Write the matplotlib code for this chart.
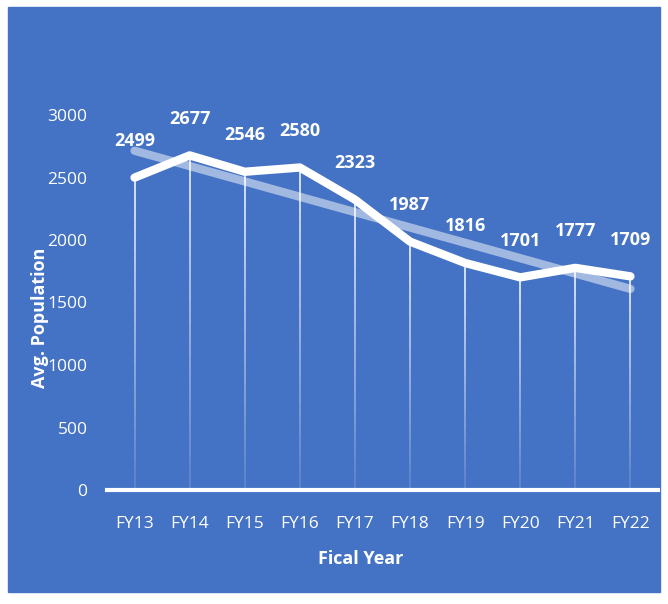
import numpy as np
import matplotlib.pyplot as plt
from matplotlib.patches import Rectangle
from matplotlib.collections import LineCollection

years = ['FY13', 'FY14', 'FY15', 'FY16', 'FY17', 'FY18', 'FY19', 'FY20', 'FY21', 'FY22']
population = [2499, 2677, 2546, 2580, 2323, 1987, 1816, 1701, 1777, 1709]

BLUE = '#4472C4'
plt.rcParams['font.family'] = ['Open Sans', 'DejaVu Sans']

fig = plt.figure(figsize=(6.68, 6.04), dpi=100, facecolor='white')
fig.patches.append(Rectangle((8 / 668, 12 / 604), 652 / 668, 585 / 604,
                             transform=fig.transFigure, color=BLUE, zorder=-10))

ax = fig.add_axes([107 / 668, 114 / 604, 551 / 668, 375 / 604])
ax.set_facecolor('none')
ax.set_zorder(1)
x = np.arange(len(years))

# drop lines fading toward the axis
segs, cols = [], []
n = 30
for xi, v in zip(x, population):
    ys = np.linspace(0, v, n + 1)
    for k in range(n):
        segs.append([(xi, ys[k]), (xi, ys[k + 1])])
        cols.append((1, 1, 1, 0.15 + 0.8 * (k / n)))
ax.add_collection(LineCollection(segs, colors=cols, linewidths=1.2, zorder=2))

# linear trend
coef = np.polyfit(x, population, 1)
ax.plot(x, np.polyval(coef, x), color='white', alpha=0.5, lw=6,
        solid_capstyle='round', zorder=3)

ax.plot(x, population, color='white', lw=6, solid_capstyle='round',
        solid_joinstyle='round', zorder=4)

for xi, v in zip(x, population):
    ax.annotate(str(v), (xi, v), xytext=(0, 20), textcoords='offset points',
                ha='center', va='bottom', color='white', fontsize=13,
                fontweight='bold')

ax.set_xlim(-0.5, len(years) - 0.5)
ax.set_ylim(0, 3000)
ax.set_yticks(range(0, 3001, 500))
ax.set_xticks(x)
ax.set_xticklabels(years)
ax.tick_params(axis='both', length=0, colors='white', labelsize=12.5)
ax.tick_params(axis='y', pad=14)
ax.tick_params(axis='x', pad=19)
for s in ['top', 'right', 'left']:
    ax.spines[s].set_visible(False)
ax.spines['bottom'].set_color('white')
ax.spines['bottom'].set_linewidth(3)

ax.set_xlabel('Fical Year', color='white', fontsize=13, fontweight='bold')
ax.xaxis.set_label_coords((361 - 107) / 551, -0.16)
ax.set_ylabel('Avg. Population', color='white', fontsize=13, fontweight='bold')
ax.yaxis.set_label_coords(-0.105, 0.46)

plt.savefig('out.png', dpi=100)
